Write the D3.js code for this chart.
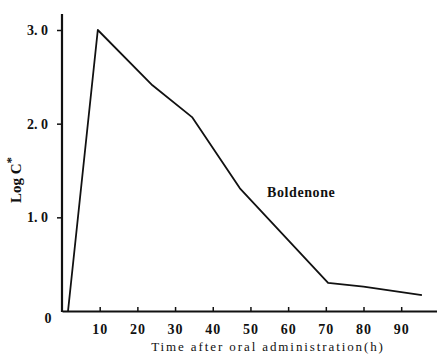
<!DOCTYPE html>
<html>
<meta charset="utf-8">
<style>
  body { margin: 0; background: #fff; }
  text { font-family: "Liberation Serif", "DejaVu Serif", serif; font-weight: bold; fill: #111; }
</style>

<body>
  <svg></svg>
</body>

<script src="https://d3js.org/d3.v7.min.js"></script>

<script>

  var width = 437, height = 354;

  // data
  var hours = [1.6, 9.5, 24, 34.5, 47.2, 70.6, 80, 95.5];
  var logC = [0, 3.0, 2.41, 2.07, 1.31, 0.30, 0.26, 0.17];
  var xTicks = [10, 20, 30, 40, 50, 60, 70, 80, 90];
  var yTicks = [1, 2, 3];

  var svg = d3.select("svg")
    .style("width", width + "px")
    .style("height", height + "px");

  var x = d3.scaleLinear().domain([0, 99.5]).range([62, 437]);
  var y = d3.scaleLinear().domain([0, 3]).range([311, 30]);

  // x axis
  var xAxis = d3.axisBottom(x)
    .tickValues(xTicks)
    .tickSizeInner(-4)
    .tickSizeOuter(0)
    .tickPadding(13)
    .tickFormat(d3.format("d"));

  var gx = svg.append("g")
    .attr("transform", "translate(0," + y(0) + ")")
    .call(xAxis);
  gx.select(".domain").attr("stroke-width", 2.2).attr("stroke", "#111");
  gx.selectAll(".tick line").attr("stroke-width", 1.5).attr("stroke", "#111");
  gx.selectAll(".tick text").style("font-size", "14px").style("letter-spacing", "1px");

  // y axis
  var yAxis = d3.axisLeft(y)
    .tickValues(yTicks)
    .tickSizeInner(5)
    .tickSizeOuter(0)
    .tickPadding(9)
    .tickFormat(d => d.toFixed(1).replace(".", ". "));

  var gy = svg.append("g")
    .attr("transform", "translate(" + x(0) + ",0)")
    .call(yAxis);
  gy.select(".domain").remove();
  gy.selectAll(".tick line").attr("stroke-width", 1.5).attr("stroke", "#111");
  gy.selectAll(".tick text").style("font-size", "14px");

  // y axis line runs a bit above the 3.0 tick
  svg.append("line")
    .attr("x1", x(0)).attr("x2", x(0))
    .attr("y1", y(0) + 1).attr("y2", 14)
    .attr("stroke", "#111").attr("stroke-width", 2.2);

  svg.append("text")
    .attr("x", 48).attr("y", y(0) + 12)
    .attr("text-anchor", "middle")
    .style("font-size", "14px")
    .text("0");

  // curve
  var pts = hours.map((h, i) => [h, logC[i]]);
  svg.append("path")
    .datum(pts)
    .attr("fill", "none")
    .attr("stroke", "#111")
    .attr("stroke-width", 1.8)
    .attr("stroke-linejoin", "round")
    .attr("d", d3.line().x(d => x(d[0])).y(d => y(d[1])));

  // labels
  svg.append("text")
    .attr("x", 267).attr("y", 197)
    .style("font-size", "14px")
    .style("letter-spacing", "0.6px")
    .text("Boldenone");

  svg.append("text")
    .attr("x", 268).attr("y", 351)
    .attr("text-anchor", "middle")
    .style("font-size", "13px")
    .style("font-weight", "normal")
    .style("letter-spacing", "1.9px")
    .text("Time after oral administration(h)");

  var ylab = svg.append("text")
    .attr("transform", "translate(21,180) rotate(-90)")
    .attr("text-anchor", "middle")
    .style("font-size", "15px")
    .text("Log C");
  ylab.append("tspan")
    .attr("dy", "-0.45em")
    .style("font-size", "13px")
    .text("*");

</script>

</html>
